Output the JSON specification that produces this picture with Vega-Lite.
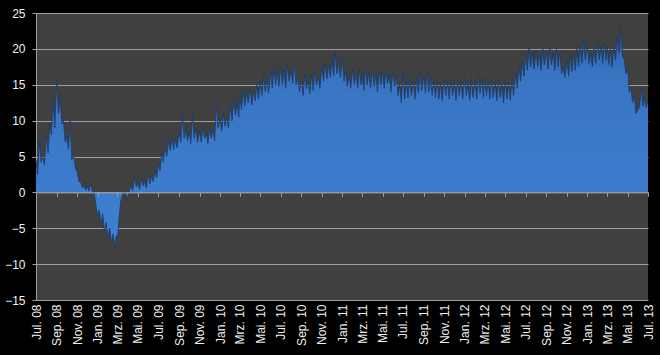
{
  "$schema": "https://vega.github.io/schema/vega-lite/v6.json",
  "width": 612,
  "height": 287,
  "autosize": "none",
  "padding": {"left": 36, "top": 13, "right": 12, "bottom": 55},
  "background": "#000000",
  "config": {
    "view": {"fill": "#404040", "stroke": null},
    "axis": {"labelFont": "Liberation Sans", "labelColor": "#f0f0f0", "labelFontSize": 12, "domainColor": "#a0a0a0", "tickColor": "#a0a0a0", "gridColor": "#a0a0a0", "gridWidth": 1, "domainWidth": 1, "tickWidth": 1},
    "axisY": {"labelOverlap": false}
  },
  "data": {"values": [
    {"date":"2008-07-01","v":4.5},{"date":"2008-07-06","v":2.5},{"date":"2008-07-11","v":7.2},{"date":"2008-07-16","v":4.2},{"date":"2008-07-21","v":5.0},{"date":"2008-07-26","v":3.8},
    {"date":"2008-08-01","v":7.8},{"date":"2008-08-06","v":5.5},{"date":"2008-08-11","v":9.5},{"date":"2008-08-16","v":8.0},{"date":"2008-08-21","v":12.8},{"date":"2008-08-26","v":9.0},
    {"date":"2008-09-01","v":15.7},{"date":"2008-09-06","v":11.0},{"date":"2008-09-11","v":13.0},{"date":"2008-09-16","v":9.5},{"date":"2008-09-21","v":10.0},{"date":"2008-09-26","v":7.0},
    {"date":"2008-10-01","v":7.8},{"date":"2008-10-06","v":6.0},{"date":"2008-10-11","v":10.0},{"date":"2008-10-16","v":4.5},{"date":"2008-10-21","v":5.5},{"date":"2008-10-26","v":3.5},
    {"date":"2008-11-01","v":2.8},{"date":"2008-11-06","v":1.5},{"date":"2008-11-11","v":1.5},{"date":"2008-11-16","v":0.6},{"date":"2008-11-21","v":1.0},{"date":"2008-11-26","v":0.3},
    {"date":"2008-12-01","v":0.8},{"date":"2008-12-06","v":0.2},{"date":"2008-12-11","v":1.2},{"date":"2008-12-16","v":0.1},{"date":"2008-12-21","v":0.2},{"date":"2008-12-26","v":-1.5},
    {"date":"2009-01-01","v":-3.3},{"date":"2009-01-06","v":-2.5},{"date":"2009-01-11","v":-4.5},{"date":"2009-01-16","v":-3.0},{"date":"2009-01-21","v":-5.5},{"date":"2009-01-26","v":-4.2},
    {"date":"2009-02-01","v":-6.2},{"date":"2009-02-06","v":-5.0},{"date":"2009-02-11","v":-7.0},{"date":"2009-02-16","v":-5.8},{"date":"2009-02-21","v":-7.5},{"date":"2009-02-26","v":-6.0},
    {"date":"2009-03-01","v":-6.5},{"date":"2009-03-06","v":-3.5},{"date":"2009-03-11","v":-1.2},{"date":"2009-03-16","v":-0.3},{"date":"2009-03-21","v":0.4},{"date":"2009-03-26","v":-0.2},
    {"date":"2009-04-01","v":-0.8},{"date":"2009-04-06","v":0.3},{"date":"2009-04-11","v":1.0},{"date":"2009-04-16","v":0.2},{"date":"2009-04-21","v":2.2},{"date":"2009-04-26","v":0.8},
    {"date":"2009-05-01","v":1.2},{"date":"2009-05-06","v":0.4},{"date":"2009-05-11","v":2.0},{"date":"2009-05-16","v":0.9},{"date":"2009-05-21","v":1.5},{"date":"2009-05-26","v":0.6},
    {"date":"2009-06-01","v":2.5},{"date":"2009-06-06","v":1.2},{"date":"2009-06-11","v":2.3},{"date":"2009-06-16","v":1.5},{"date":"2009-06-21","v":3.0},{"date":"2009-06-26","v":2.0},
    {"date":"2009-07-01","v":4.0},{"date":"2009-07-06","v":3.0},{"date":"2009-07-11","v":5.5},{"date":"2009-07-16","v":4.2},{"date":"2009-07-21","v":6.5},{"date":"2009-07-26","v":5.0},
    {"date":"2009-08-01","v":7.3},{"date":"2009-08-06","v":5.8},{"date":"2009-08-11","v":7.8},{"date":"2009-08-16","v":6.0},{"date":"2009-08-21","v":7.5},{"date":"2009-08-26","v":6.2},
    {"date":"2009-09-01","v":8.5},{"date":"2009-09-06","v":7.0},{"date":"2009-09-11","v":10.9},{"date":"2009-09-16","v":7.5},{"date":"2009-09-21","v":8.8},{"date":"2009-09-26","v":7.2},
    {"date":"2009-10-01","v":8.5},{"date":"2009-10-06","v":6.8},{"date":"2009-10-11","v":11.0},{"date":"2009-10-16","v":7.5},{"date":"2009-10-21","v":9.0},{"date":"2009-10-26","v":7.0},
    {"date":"2009-11-01","v":8.5},{"date":"2009-11-06","v":7.0},{"date":"2009-11-11","v":9.2},{"date":"2009-11-16","v":7.5},{"date":"2009-11-21","v":8.2},{"date":"2009-11-26","v":6.8},
    {"date":"2009-12-01","v":9.0},{"date":"2009-12-06","v":7.5},{"date":"2009-12-11","v":8.8},{"date":"2009-12-16","v":7.2},{"date":"2009-12-21","v":12.5},{"date":"2009-12-26","v":9.0},
    {"date":"2010-01-01","v":10.2},{"date":"2010-01-06","v":8.5},{"date":"2010-01-11","v":11.0},{"date":"2010-01-16","v":9.2},{"date":"2010-01-21","v":10.5},{"date":"2010-01-26","v":9.0},
    {"date":"2010-02-01","v":12.0},{"date":"2010-02-06","v":10.0},{"date":"2010-02-11","v":13.0},{"date":"2010-02-16","v":10.8},{"date":"2010-02-21","v":12.5},{"date":"2010-02-26","v":10.5},
    {"date":"2010-03-01","v":13.5},{"date":"2010-03-06","v":11.5},{"date":"2010-03-11","v":14.3},{"date":"2010-03-16","v":12.0},{"date":"2010-03-21","v":14.0},{"date":"2010-03-26","v":12.5},
    {"date":"2010-04-01","v":14.5},{"date":"2010-04-06","v":12.2},{"date":"2010-04-11","v":14.2},{"date":"2010-04-16","v":12.8},{"date":"2010-04-21","v":15.0},{"date":"2010-04-26","v":13.0},
    {"date":"2010-05-01","v":15.5},{"date":"2010-05-06","v":13.5},{"date":"2010-05-11","v":16.2},{"date":"2010-05-16","v":14.0},{"date":"2010-05-21","v":15.8},{"date":"2010-05-26","v":13.8},
    {"date":"2010-06-01","v":17.0},{"date":"2010-06-06","v":14.5},{"date":"2010-06-11","v":17.5},{"date":"2010-06-16","v":15.0},{"date":"2010-06-21","v":16.8},{"date":"2010-06-26","v":14.8},
    {"date":"2010-07-01","v":17.5},{"date":"2010-07-06","v":15.0},{"date":"2010-07-11","v":17.2},{"date":"2010-07-16","v":14.5},{"date":"2010-07-21","v":17.8},{"date":"2010-07-26","v":15.5},
    {"date":"2010-08-01","v":17.0},{"date":"2010-08-06","v":15.2},{"date":"2010-08-11","v":18.3},{"date":"2010-08-16","v":15.0},{"date":"2010-08-21","v":16.2},{"date":"2010-08-26","v":14.0},
    {"date":"2010-09-01","v":15.8},{"date":"2010-09-06","v":13.5},{"date":"2010-09-11","v":16.5},{"date":"2010-09-16","v":14.5},{"date":"2010-09-21","v":15.5},{"date":"2010-09-26","v":13.8},
    {"date":"2010-10-01","v":16.5},{"date":"2010-10-06","v":14.2},{"date":"2010-10-11","v":17.0},{"date":"2010-10-16","v":15.0},{"date":"2010-10-21","v":16.2},{"date":"2010-10-26","v":14.5},
    {"date":"2010-11-01","v":17.5},{"date":"2010-11-06","v":15.5},{"date":"2010-11-11","v":18.0},{"date":"2010-11-16","v":15.8},{"date":"2010-11-21","v":17.8},{"date":"2010-11-26","v":16.0},
    {"date":"2010-12-01","v":18.5},{"date":"2010-12-06","v":16.2},{"date":"2010-12-11","v":19.5},{"date":"2010-12-16","v":16.5},{"date":"2010-12-21","v":18.2},{"date":"2010-12-26","v":16.0},
    {"date":"2011-01-01","v":18.8},{"date":"2011-01-06","v":15.5},{"date":"2011-01-11","v":17.0},{"date":"2011-01-16","v":14.8},{"date":"2011-01-21","v":16.5},{"date":"2011-01-26","v":14.5},
    {"date":"2011-02-01","v":17.2},{"date":"2011-02-06","v":15.0},{"date":"2011-02-11","v":16.8},{"date":"2011-02-16","v":14.5},{"date":"2011-02-21","v":17.0},{"date":"2011-02-26","v":15.0},
    {"date":"2011-03-01","v":16.5},{"date":"2011-03-06","v":14.2},{"date":"2011-03-11","v":17.3},{"date":"2011-03-16","v":15.0},{"date":"2011-03-21","v":16.8},{"date":"2011-03-26","v":14.5},
    {"date":"2011-04-01","v":17.0},{"date":"2011-04-06","v":14.8},{"date":"2011-04-11","v":16.5},{"date":"2011-04-16","v":14.0},{"date":"2011-04-21","v":17.2},{"date":"2011-04-26","v":15.0},
    {"date":"2011-05-01","v":16.8},{"date":"2011-05-06","v":14.5},{"date":"2011-05-11","v":17.0},{"date":"2011-05-16","v":15.2},{"date":"2011-05-21","v":16.5},{"date":"2011-05-26","v":14.0},
    {"date":"2011-06-01","v":17.0},{"date":"2011-06-06","v":14.8},{"date":"2011-06-11","v":16.5},{"date":"2011-06-16","v":13.5},{"date":"2011-06-21","v":15.0},{"date":"2011-06-26","v":12.5},
    {"date":"2011-07-01","v":16.8},{"date":"2011-07-06","v":13.0},{"date":"2011-07-11","v":15.5},{"date":"2011-07-16","v":13.2},{"date":"2011-07-21","v":16.0},{"date":"2011-07-26","v":13.5},
    {"date":"2011-08-01","v":15.5},{"date":"2011-08-06","v":13.0},{"date":"2011-08-11","v":16.2},{"date":"2011-08-16","v":13.8},{"date":"2011-08-21","v":16.7},{"date":"2011-08-26","v":14.2},
    {"date":"2011-09-01","v":16.3},{"date":"2011-09-06","v":13.8},{"date":"2011-09-11","v":16.8},{"date":"2011-09-16","v":14.0},{"date":"2011-09-21","v":16.0},{"date":"2011-09-26","v":13.5},
    {"date":"2011-10-01","v":15.5},{"date":"2011-10-06","v":13.2},{"date":"2011-10-11","v":15.8},{"date":"2011-10-16","v":13.0},{"date":"2011-10-21","v":15.3},{"date":"2011-10-26","v":12.8},
    {"date":"2011-11-01","v":15.8},{"date":"2011-11-06","v":13.5},{"date":"2011-11-11","v":15.5},{"date":"2011-11-16","v":13.0},{"date":"2011-11-21","v":16.0},{"date":"2011-11-26","v":13.5},
    {"date":"2011-12-01","v":15.3},{"date":"2011-12-06","v":12.8},{"date":"2011-12-11","v":15.8},{"date":"2011-12-16","v":13.5},{"date":"2011-12-21","v":15.5},{"date":"2011-12-26","v":13.0},
    {"date":"2012-01-01","v":16.0},{"date":"2012-01-06","v":13.5},{"date":"2012-01-11","v":15.2},{"date":"2012-01-16","v":12.8},{"date":"2012-01-21","v":15.7},{"date":"2012-01-26","v":13.2},
    {"date":"2012-02-01","v":15.5},{"date":"2012-02-06","v":13.0},{"date":"2012-02-11","v":16.2},{"date":"2012-02-16","v":13.8},{"date":"2012-02-21","v":15.8},{"date":"2012-02-26","v":13.2},
    {"date":"2012-03-01","v":16.0},{"date":"2012-03-06","v":13.5},{"date":"2012-03-11","v":15.5},{"date":"2012-03-16","v":13.0},{"date":"2012-03-21","v":15.8},{"date":"2012-03-26","v":13.2},
    {"date":"2012-04-01","v":15.3},{"date":"2012-04-06","v":12.8},{"date":"2012-04-11","v":15.8},{"date":"2012-04-16","v":13.2},{"date":"2012-04-21","v":15.0},{"date":"2012-04-26","v":12.5},
    {"date":"2012-05-01","v":15.5},{"date":"2012-05-06","v":13.0},{"date":"2012-05-11","v":15.2},{"date":"2012-05-16","v":12.8},{"date":"2012-05-21","v":15.8},{"date":"2012-05-26","v":13.5},
    {"date":"2012-06-01","v":16.5},{"date":"2012-06-06","v":14.5},{"date":"2012-06-11","v":17.5},{"date":"2012-06-16","v":15.5},{"date":"2012-06-21","v":18.3},{"date":"2012-06-26","v":16.2},
    {"date":"2012-07-01","v":19.5},{"date":"2012-07-06","v":17.0},{"date":"2012-07-11","v":20.2},{"date":"2012-07-16","v":17.5},{"date":"2012-07-21","v":19.5},{"date":"2012-07-26","v":17.2},
    {"date":"2012-08-01","v":19.8},{"date":"2012-08-06","v":17.5},{"date":"2012-08-11","v":19.5},{"date":"2012-08-16","v":17.0},{"date":"2012-08-21","v":20.0},{"date":"2012-08-26","v":17.8},
    {"date":"2012-09-01","v":19.8},{"date":"2012-09-06","v":17.2},{"date":"2012-09-11","v":20.3},{"date":"2012-09-16","v":17.8},{"date":"2012-09-21","v":19.5},{"date":"2012-09-26","v":17.0},
    {"date":"2012-10-01","v":20.0},{"date":"2012-10-06","v":17.5},{"date":"2012-10-11","v":19.8},{"date":"2012-10-16","v":16.5},{"date":"2012-10-21","v":17.5},{"date":"2012-10-26","v":16.0},
    {"date":"2012-11-01","v":18.5},{"date":"2012-11-06","v":16.2},{"date":"2012-11-11","v":19.0},{"date":"2012-11-16","v":16.8},{"date":"2012-11-21","v":19.5},{"date":"2012-11-26","v":17.0},
    {"date":"2012-12-01","v":20.0},{"date":"2012-12-06","v":17.5},{"date":"2012-12-11","v":20.5},{"date":"2012-12-16","v":18.0},{"date":"2012-12-21","v":21.5},{"date":"2012-12-26","v":18.5},
    {"date":"2013-01-01","v":20.8},{"date":"2013-01-06","v":18.0},{"date":"2013-01-11","v":19.5},{"date":"2013-01-16","v":17.5},{"date":"2013-01-21","v":20.2},{"date":"2013-01-26","v":18.0},
    {"date":"2013-02-01","v":21.0},{"date":"2013-02-06","v":18.5},{"date":"2013-02-11","v":20.5},{"date":"2013-02-16","v":18.0},{"date":"2013-02-21","v":21.0},{"date":"2013-02-26","v":18.5},
    {"date":"2013-03-01","v":20.3},{"date":"2013-03-06","v":17.8},{"date":"2013-03-11","v":20.0},{"date":"2013-03-16","v":17.5},{"date":"2013-03-21","v":20.5},{"date":"2013-03-26","v":18.5},
    {"date":"2013-04-01","v":21.8},{"date":"2013-04-06","v":19.5},{"date":"2013-04-11","v":23.0},{"date":"2013-04-16","v":19.0},{"date":"2013-04-21","v":18.5},{"date":"2013-04-26","v":16.5},
    {"date":"2013-05-01","v":17.5},{"date":"2013-05-06","v":14.0},{"date":"2013-05-11","v":14.5},{"date":"2013-05-16","v":12.5},{"date":"2013-05-21","v":13.5},{"date":"2013-05-26","v":11.0},
    {"date":"2013-06-01","v":11.5},{"date":"2013-06-06","v":12.0},{"date":"2013-06-11","v":14.5},{"date":"2013-06-16","v":12.0},{"date":"2013-06-21","v":13.2},{"date":"2013-06-26","v":11.8},
    {"date":"2013-07-01","v":13.0}
  ]},
  "resolve": {"axis": {"x": "independent"}},
  "layer": [
    {
      "mark": {
        "type": "area",
        "color": {"gradient": "linear", "x1": 0, "y1": 0, "x2": 0, "y2": 1,
          "stops": [{"offset": 0, "color": "#2a5896"}, {"offset": 0.2, "color": "#3874c2"}, {"offset": 1, "color": "#3f80d2"}]}
      },
      "encoding": {
        "x": {"field": "date", "type": "temporal",
          "scale": {"type": "utc", "domain": [{"year": 2008, "month": 7, "date": 1, "utc": true}, {"year": 2013, "month": 7, "date": 1, "utc": true}]},
          "axis": {"title": null, "orient": "bottom", "grid": false, "domain": false, "ticks": false, "labelAngle": -90, "labelPadding": 4,
            "tickCount": {"interval": "month", "step": 2}, "labelOverlap": false, "labelFlush": false, "labelBound": false,
            "labelExpr": "['Jan.','Feb.','Mrz.','Apr.','Mai.','Jun.','Jul.','Aug.','Sep.','Okt.','Nov.','Dez.'][utcmonth(datum.value)] + ' ' + utcFormat(datum.value, '%y')"}},
        "y": {"field": "v", "type": "quantitative",
          "scale": {"domain": [-15, 25], "nice": false},
          "axis": {"title": null, "values": [-15, -10, -5, 0, 5, 10, 15, 20, 25], "grid": true, "tickSize": 4, "labelPadding": 7, "labelFlush": false, "labelOverlap": false, "labelBound": false}}
      }
    },
    {
      "mark": {"type": "line", "color": "#1c3a66", "strokeWidth": 0.8},
      "encoding": {
        "x": {"field": "date", "type": "temporal", "axis": null},
        "y": {"field": "v", "type": "quantitative",
          "scale": {"domain": [-15, 25], "nice": false},
          "axis": {"title": null, "values": [-15, -10, -5, 0, 5, 10, 15, 20, 25], "grid": true, "tickSize": 4, "labelPadding": 7, "labelFlush": false, "labelOverlap": false, "labelBound": false}}
      }
    },
    {
      "mark": {"type": "rule", "opacity": 0},
      "encoding": {
        "x": {"field": "date", "type": "temporal",
          "axis": {"title": null, "orient": "bottom", "grid": false, "labels": false, "ticks": true, "tickSize": 4, "domain": true, "offset": -107.6, "zindex": 1,
            "tickCount": {"interval": "month", "step": 2}}}
      }
    }
  ]
}
